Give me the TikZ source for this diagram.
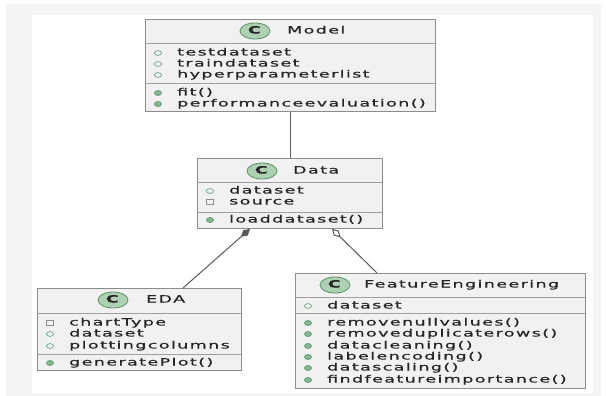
\documentclass[tikz,border=0pt]{standalone}
\usepackage{fontspec}
\setmainfont{DejaVu Sans}[FakeStretch=1.75,LetterSpace=14,FakeBold=0.8]
\usetikzlibrary{arrows.meta,calc}
\definecolor{boxfill}{HTML}{F1F1F1}
\definecolor{boxborder}{HTML}{8C8C8C}
\definecolor{sepcol}{HTML}{A0A0A0}
\definecolor{txtcol}{HTML}{262626}
\definecolor{spotfill}{HTML}{ADD1B2}
\definecolor{spotdraw}{HTML}{5E8F6A}
\definecolor{fieldcol}{HTML}{6FA386}
\definecolor{privcol}{HTML}{8E8E8E}
\definecolor{methfill}{HTML}{82B592}
\definecolor{methdraw}{HTML}{5A8F6C}
\definecolor{linecol}{HTML}{5A5A5A}
\definecolor{framecol}{HTML}{F4F4F4}
\newcommand\fieldmk[2]{\draw[fieldcol, line width=0.7pt] (#1,#2) ellipse [x radius=3.6, y radius=2.4];}
\newcommand\privmk[2]{\draw[privcol, line width=0.7pt] ($(#1,#2)+(-3.6,-2.6)$) rectangle ($(#1,#2)+(3.6,2.6)$);}
\newcommand\methmk[2]{\filldraw[fill=methfill, draw=methdraw, line width=0.5pt] (#1,#2) ellipse [x radius=3.6, y radius=2.6];}
\begin{document}
\begin{tikzpicture}[x=1pt,y=-1pt,
  classbox/.style={draw=boxborder, fill=boxfill, line width=0.9pt, anchor=north west, inner sep=0pt},
  sep/.style={draw=sepcol, line width=0.8pt},
  txt/.style={anchor=west, inner sep=0pt, text=txtcol, font=\fontsize{10}{12}\selectfont, text height=7pt, text depth=2pt},
  spot/.style={draw=spotdraw, fill=spotfill, line width=0.8pt},
  conn/.style={draw=linecol, line width=1pt}
]
\useasboundingbox (0,0) rectangle (606,396);
% faint frame
\fill[framecol] (6,4) rectangle (601,396);
\fill[white] (32,15) rectangle (593,393);

% ---------- Model ----------
\node[classbox, minimum width=290pt, minimum height=92pt] (model) at (145,19) {};
\draw[sep] (145,43) -- (435,43);
\draw[sep] (145,83) -- (435,83);
\draw[spot] (255,31) ellipse [x radius=15, y radius=8];
\node[txt, anchor=center] (modelC) at (255,31) {\textbf{C}};
\node[txt] (modelN) at (287,31) {Model};
\fieldmk{158}{53}\node[txt] (m1) at (177,53) {testdataset};
\fieldmk{158}{64}\node[txt] (m2) at (177,64) {traindataset};
\fieldmk{158}{75}\node[txt] (m3) at (177,75) {hyperparameterlist};
\methmk{158}{93}\node[txt] (m4) at (177,93) {fit()};
\methmk{158}{104}\node[txt] (m5) at (177,104) {performanceevaluation()};

% ---------- Data ----------
\node[classbox, minimum width=185pt, minimum height=70pt] (data) at (197,158) {};
\draw[sep] (197,182) -- (382,182);
\draw[sep] (197,212) -- (382,212);
\draw[spot] (262,171) ellipse [x radius=15, y radius=8];
\node[txt, anchor=center] (dataC) at (262,171) {\textbf{C}};
\node[txt] (dataN) at (293,171) {Data};
\fieldmk{210}{191}\node[txt] (d1) at (229,191) {dataset};
\privmk{210}{202}\node[txt] (d2) at (229,202) {source};
\methmk{210}{220}\node[txt] (d3) at (229,220) {loaddataset()};

% ---------- EDA ----------
\node[classbox, minimum width=204pt, minimum height=82pt] (eda) at (37,288) {};
\draw[sep] (37,313) -- (241,313);
\draw[sep] (37,354) -- (241,354);
\draw[spot] (113,300) ellipse [x radius=15, y radius=8];
\node[txt, anchor=center] (edaC) at (113,300) {\textbf{C}};
\node[txt] (edaN) at (146,300) {EDA};
\privmk{50}{323}\node[txt] (e1) at (69,323) {chartType};
\fieldmk{50}{334}\node[txt] (e2) at (69,334) {dataset};
\fieldmk{50}{346}\node[txt] (e3) at (69,346) {plottingcolumns};
\methmk{50}{363}\node[txt] (e4) at (69,363) {generatePlot()};

% ---------- FeatureEngineering ----------
\node[classbox, minimum width=290pt, minimum height=115pt] (fe) at (295,273) {};
\draw[sep] (295,297) -- (585,297);
\draw[sep] (295,313) -- (585,313);
\draw[spot] (335,285) ellipse [x radius=15, y radius=8];
\node[txt, anchor=center] (feC) at (335,285) {\textbf{C}};
\node[txt] (feN) at (364,285) {FeatureEngineering};
\fieldmk{308}{306}\node[txt] (f0) at (327,306) {dataset};
\methmk{308}{323}\node[txt] (f1) at (327,323) {removenullvalues()};
\methmk{308}{334}\node[txt] (f2) at (327,334) {removeduplicaterows()};
\methmk{308}{346}\node[txt] (f3) at (327,346) {datacleaning()};
\methmk{308}{357}\node[txt] (f4) at (327,357) {labelencoding()};
\methmk{308}{368}\node[txt] (f5) at (327,368) {datascaling()};
\methmk{308}{380}\node[txt] (f6) at (327,380) {findfeatureimportance()};

% ---------- connectors ----------
\draw[conn] (model.south) -- (model.south |- data.north);
\draw[conn, -{Diamond[length=12pt,width=7pt,fill=linecol]}]
  ($(eda.north west)+(146,0)$) -- ($(data.south west)+(53,0)$);
\draw[conn, -{Diamond[length=12pt,width=7pt,open,fill=white]}]
  ($(fe.north west)+(82,0)$) -- ($(data.south west)+(135,0)$);
\end{tikzpicture}
\end{document}
